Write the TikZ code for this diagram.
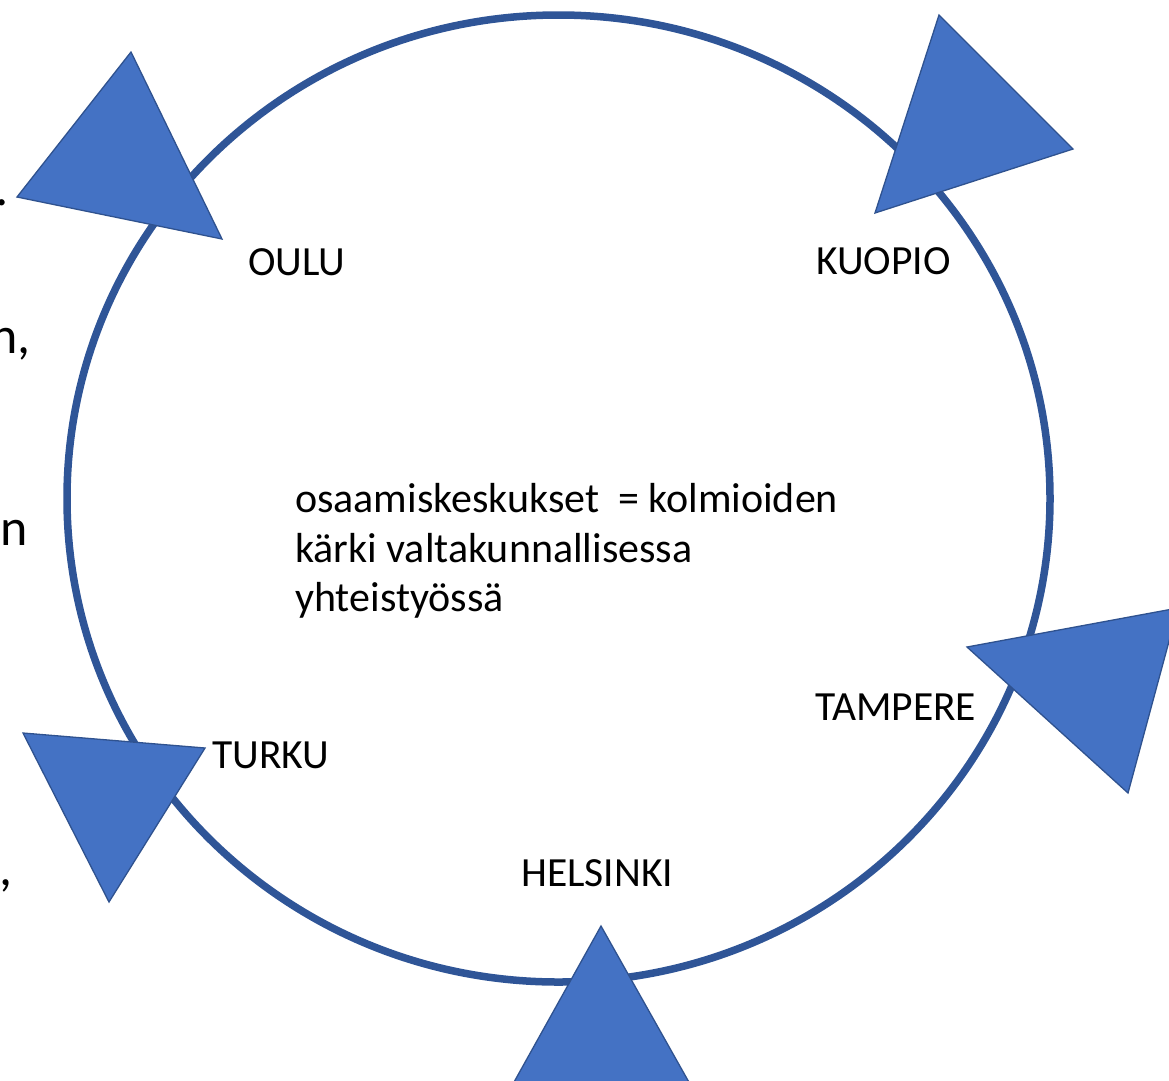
\documentclass[tikz,border=0pt]{standalone}
\usepackage{fontspec}
\setmainfont{Carlito}
\definecolor{trifill}{HTML}{4472C4}
\definecolor{triline}{HTML}{2F528F}
\definecolor{ringcol}{HTML}{2F5597}
\begin{document}
\begin{tikzpicture}[x=1pt,y=-1pt,
  tri/.style={fill=trifill,draw=triline,line width=1.3pt,line join=miter},
  lbl/.style={anchor=base west,inner sep=0pt,font=\fontsize{41.5}{50}\selectfont},
  frag/.style={anchor=base east,inner sep=0pt,font=\fontsize{52}{62}\selectfont}]
\useasboundingbox (0,0) rectangle (1169,1080);
% ring
\draw[ringcol,line width=7.5pt] (558.5,498.5) ellipse [x radius=491.5, y radius=483.5];
% triangles
\coordinate (o1) at (131,52); \coordinate (o2) at (17,197); \coordinate (o3) at (222,239);
\draw[tri] (o1) -- (o2) -- (o3) -- cycle;
\coordinate (k1) at (939,15); \coordinate (k2) at (1073,149); \coordinate (k3) at (875,213);
\draw[tri] (k1) -- (k2) -- (k3) -- cycle;
\coordinate (t1) at (967,647); \coordinate (t2) at (1178,608); \coordinate (t3) at (1128,793);
\draw[tri] (t1) -- (t2) -- (t3) -- cycle;
\coordinate (u1) at (23,733); \coordinate (u2) at (205,748); \coordinate (u3) at (109,902);
\draw[tri] (u1) -- (u2) -- (u3) -- cycle;
\coordinate (h1) at (601,926); \coordinate (h2) at (699,1100); \coordinate (h3) at (504,1100);
\draw[tri] (h1) -- (h2) -- (h3) -- cycle;
% labels
\node[lbl] (oulu) at (248,275) {OULU};
\node[lbl] (kuopio) at (816,274) {KUOPIO};
\node[lbl] (tampere) at (815,720) {TAMPERE};
\node[lbl] (turku) at (212,768) {TURKU};
\node[lbl] (helsinki) at (521,886) {HELSINKI};
\node[lbl,font=\fontsize{42}{50}\selectfont] (c1) at (295,512) {osaamiskeskukset\ \ = kolmioiden};
\node[lbl,font=\fontsize{42}{50}\selectfont] (c2) at (295,562) {k\"arki valtakunnallisessa};
\node[lbl,font=\fontsize{42}{50}\selectfont] (c3) at (295,611) {yhteisty\"oss\"a};
% cut-off text fragments at left edge
\node[frag] (f1) at (9,205) {.};
\node[frag] (f2) at (31,353) {n,};
\node[frag] (f3) at (28,545) {n};
\node[frag] (f4) at (13,885) {,};
\end{tikzpicture}
\end{document}
